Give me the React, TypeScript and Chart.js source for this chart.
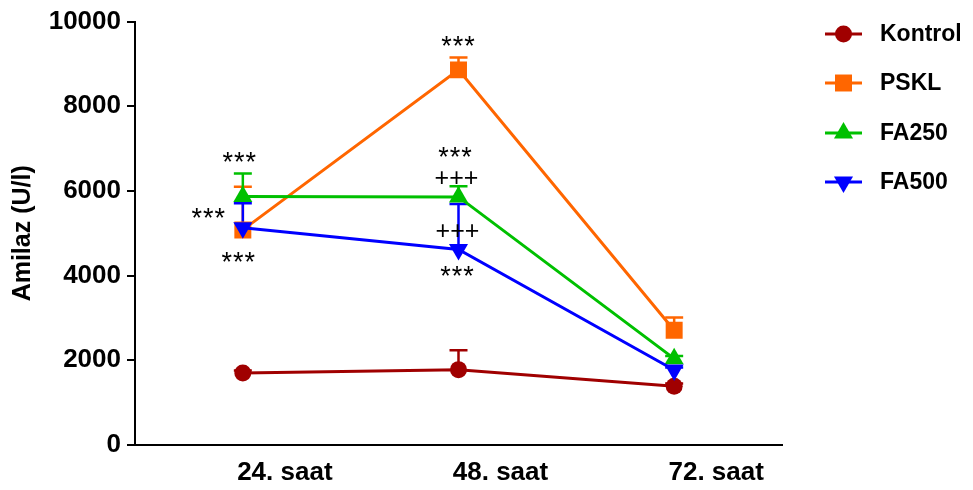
import React, { useEffect, useRef } from 'react';
import { Chart, registerables } from 'chart.js';

Chart.register(...registerables);

const FONT = "Arial, 'Liberation Sans', Helvetica, sans-serif";

const categories = ['24. saat', '48. saat', '72. saat'];
const yTicks = [0, 2000, 4000, 6000, 8000, 10000];

const seriesNames = ['Kontrol', 'PSKL', 'FA250', 'FA500'];
const seriesColors = ['#A00000', '#FF6600', '#00C000', '#0000FF'];
const seriesStyles = ['circle', 'rect', 'triangle', 'triangle'];
const seriesRotation = [0, 0, 0, 180];
const seriesRadius = [8.5, 12, 11, 11];

const kontrol = [1700, 1780, 1390];
const kontrolErr = [60, 460, 60];
const pskl = [5080, 8860, 2710];
const psklErr = [1020, 290, 300];
const fa250 = [5870, 5860, 2040];
const fa250Err = [540, 250, 60];
const fa500 = [5130, 4620, 1770];
const fa500Err = [580, 1070, 60];

const seriesValues = [kontrol, pskl, fa250, fa500];
const seriesErrors = [kontrolErr, psklErr, fa250Err, fa500Err];

// significance marks: category index, y value of the mark's visual centre, x shift
const annotations = [
  { i: 0, value: 6830, dx: -4, text: '***' },
  { i: 0, value: 5500, dx: -35, text: '***' },
  { i: 0, value: 4475, dx: -5, text: '***' },
  { i: 1, value: 9560, dx: -1, text: '***' },
  { i: 1, value: 6950, dx: -4, text: '***' },
  { i: 1, value: 6340, dx: -2, text: '+++' },
  { i: 1, value: 5080, dx: -1, text: '+++' },
  { i: 1, value: 4130, dx: -2, text: '***' },
];

function drawMarker(ctx: CanvasRenderingContext2D, style: string, rot: number, r: number, x: number, y: number, color: string) {
  ctx.save();
  ctx.fillStyle = color;
  ctx.beginPath();
  if (style === 'circle') {
    ctx.arc(x, y, r, 0, Math.PI * 2);
  } else if (style === 'rect') {
    const s = r * Math.SQRT1_2;
    ctx.rect(x - s, y - s, 2 * s, 2 * s);
  } else {
    let rad = (rot * Math.PI) / 180;
    ctx.moveTo(x + Math.sin(rad) * r, y - Math.cos(rad) * r);
    rad += (2 * Math.PI) / 3;
    ctx.lineTo(x + Math.sin(rad) * r, y - Math.cos(rad) * r);
    rad += (2 * Math.PI) / 3;
    ctx.lineTo(x + Math.sin(rad) * r, y - Math.cos(rad) * r);
    ctx.closePath();
  }
  ctx.fill();
  ctx.restore();
}

const errorBarPlugin = {
  id: 'errorBars',
  beforeDatasetsDraw(chart: any) {
    const ctx = chart.ctx;
    const xs = chart.scales.x;
    const ys = chart.scales.y;
    ctx.save();
    seriesValues.forEach((vals, s) => {
      ctx.strokeStyle = seriesColors[s];
      ctx.lineWidth = 2.5;
      vals.forEach((v, i) => {
        const x = xs.getPixelForValue(i);
        const y0 = ys.getPixelForValue(v);
        const y1 = ys.getPixelForValue(v + seriesErrors[s][i]);
        ctx.beginPath();
        ctx.moveTo(x, y0);
        ctx.lineTo(x, y1);
        ctx.moveTo(x - 9, y1);
        ctx.lineTo(x + 9, y1);
        ctx.stroke();
      });
    });
    ctx.restore();
  },
};

const annotationPlugin = {
  id: 'sigMarks',
  afterDatasetsDraw(chart: any) {
    const ctx = chart.ctx;
    const xs = chart.scales.x;
    const ys = chart.scales.y;
    ctx.save();
    ctx.fillStyle = '#000';
    ctx.textAlign = 'center';
    ctx.textBaseline = 'alphabetic';
    annotations.forEach((a) => {
      const x = xs.getPixelForValue(a.i) + a.dx;
      const yc = ys.getPixelForValue(a.value);
      if (a.text === '***') {
        ctx.font = `27px ${FONT}`;
        (ctx as any).letterSpacing = '1px';
        ctx.fillText(a.text, x + 1, yc + 15);
      } else {
        ctx.font = `25px ${FONT}`;
        (ctx as any).letterSpacing = '0px';
        ctx.fillText(a.text, x, yc + 9);
      }
    });
    ctx.restore();
  },
};

const legendPlugin = {
  id: 'customLegend',
  afterDraw(chart: any) {
    const ctx = chart.ctx;
    ctx.save();
    const rows = [34, 83, 133, 182];
    seriesNames.forEach((name, s) => {
      const y = rows[s];
      ctx.strokeStyle = seriesColors[s];
      ctx.lineWidth = 3;
      ctx.beginPath();
      ctx.moveTo(825, y);
      ctx.lineTo(862, y);
      ctx.stroke();
      drawMarker(ctx, seriesStyles[s], seriesRotation[s], seriesRadius[s], 843.5, y, seriesColors[s]);
      ctx.fillStyle = '#000';
      ctx.font = `bold 23px ${FONT}`;
      ctx.textAlign = 'left';
      ctx.textBaseline = 'middle';
      ctx.fillText(name, 880, y + 1);
    });
    ctx.restore();
  },
};

export default function App() {
  const ref = useRef<HTMLCanvasElement | null>(null);

  useEffect(() => {
    if (!ref.current) return;
    const datasets = seriesNames.map((name, s) => ({
      label: name,
      data: seriesValues[s],
      borderColor: seriesColors[s],
      backgroundColor: seriesColors[s],
      borderWidth: 3,
      pointStyle: seriesStyles[s] as any,
      pointRotation: seriesRotation[s],
      pointRadius: seriesRadius[s],
      pointBorderWidth: 0,
      pointBackgroundColor: seriesColors[s],
      tension: 0,
      fill: false,
      order: 3 - s,
    }));

    const chart = new Chart(ref.current, {
      type: 'line',
      data: { labels: categories, datasets },
      options: {
        responsive: false,
        animation: false,
        layout: { padding: { top: 16, right: 191, left: 0, bottom: 0 } },
        plugins: {
          legend: { display: false },
          tooltip: { enabled: false },
        },
        scales: {
          x: {
            type: 'category',
            offset: true,
            grid: { display: false, drawTicks: false },
            border: { display: true, color: '#000', width: 2 },
            ticks: {
              labelOffset: 42,
              padding: 12,
              color: '#000',
              font: { size: 26, weight: 'bold', family: FONT },
            },
            afterFit: (s: any) => {
              s.height = 45;
            },
          },
          y: {
            min: 0,
            max: 10000,
            afterBuildTicks: (s: any) => {
              s.ticks = yTicks.map((v) => ({ value: v }));
            },
            grid: { drawOnChartArea: false, drawTicks: true, tickLength: 8, color: '#000', lineWidth: 2 },
            border: { display: true, color: '#000', width: 2 },
            ticks: {
              color: '#000',
              padding: 6,
              callback: (v: any) => String(v),
              font: { size: 26, weight: 'bold', family: FONT },
            },
            title: {
              display: true,
              text: 'Amilaz (U/l)',
              color: '#000',
              padding: { top: 8, bottom: 0 },
              font: { size: 25, weight: 'bold', family: FONT },
            },
            afterFit: (s: any) => {
              s.width = 135;
            },
          },
        },
      } as any,
      plugins: [errorBarPlugin, annotationPlugin, legendPlugin],
    });
    return () => chart.destroy();
  }, []);

  return (
    <div style={{ position: 'fixed', left: 0, top: 0, width: 973, height: 490, background: '#fff' }}>
      <canvas ref={ref} width={973} height={490} style={{ display: 'block', width: 973, height: 490 }} />
    </div>
  );
}
